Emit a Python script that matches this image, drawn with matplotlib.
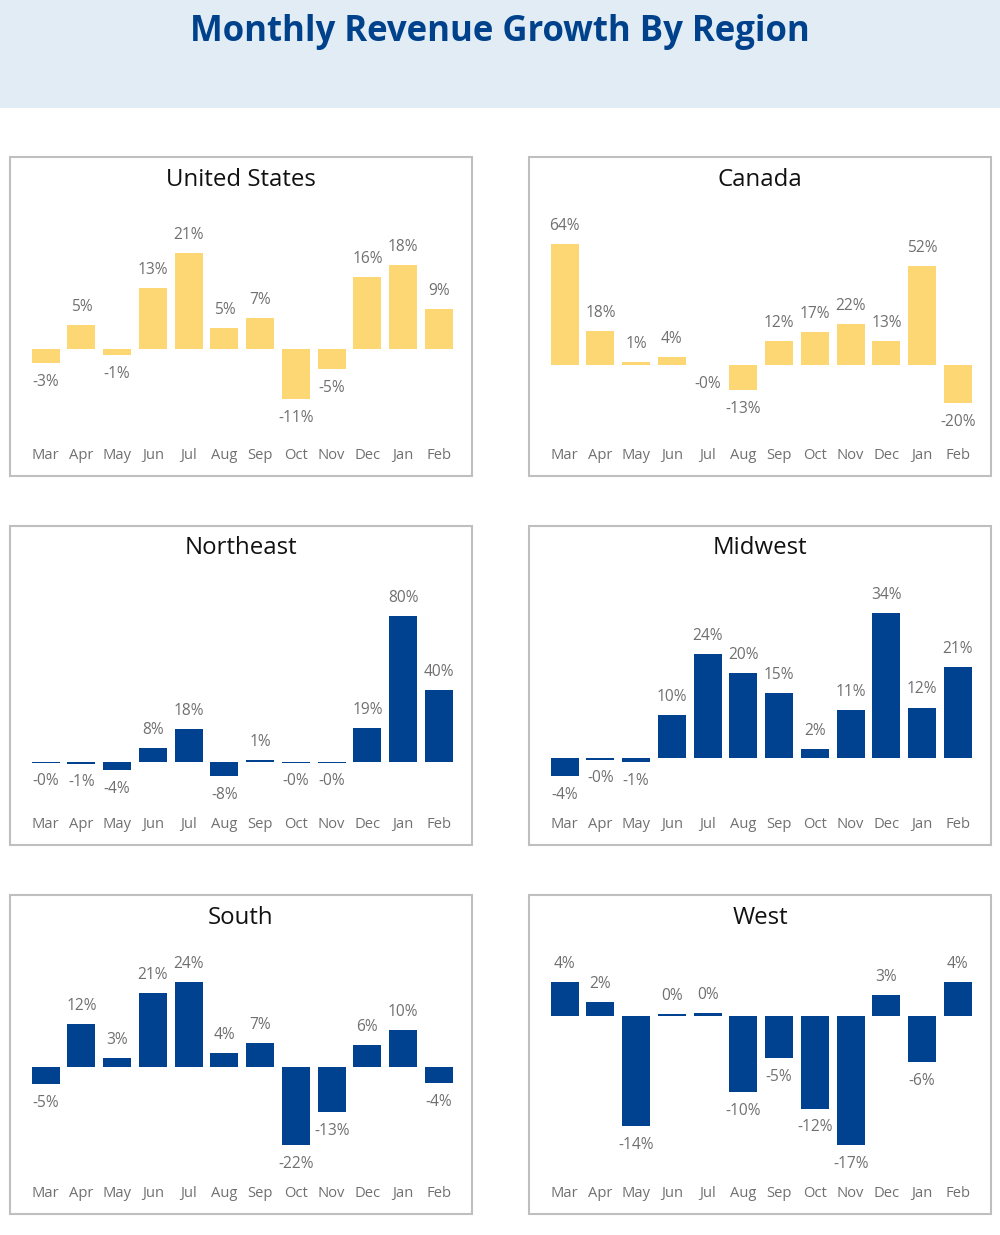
import numpy as np
import matplotlib.pyplot as plt
from matplotlib.patches import Rectangle

plt.rcParams['font.family'] = ['Open Sans', 'DejaVu Sans']

# %%
# month-over-month revenue growth (%)
months = ['Mar', 'Apr', 'May', 'Jun', 'Jul', 'Aug', 'Sep', 'Oct', 'Nov', 'Dec', 'Jan', 'Feb']

united_states = [-3.15, 5.2, -1.45, 13.4, 21.0, 4.6, 6.6, -11.1, -4.6, 15.7, 18.3, 8.6]
canada = [64.0, 18.0, 1.4, 4.1, -0.4, -13.3, 12.4, 17.1, 21.7, 12.7, 52.3, -20.3]
northeast = [-0.3, -0.8, -4.2, 7.6, 18.1, -7.6, 1.1, -0.3, -0.3, 18.6, 80.0, 39.6]
midwest = [-4.1, -0.3, -0.9, 10.1, 24.3, 20.0, 15.4, 2.3, 11.3, 34.0, 11.9, 21.4]
south = [-4.8, 12.3, 2.6, 21.0, 24.0, 4.0, 6.9, -21.8, -12.6, 6.2, 10.4, -4.4]
west = [4.4, 1.9, -14.2, 0.3, 0.4, -9.8, -5.4, -11.9, -16.6, 2.75, -5.9, 4.45]

regions = ['United States', 'Canada', 'Northeast', 'Midwest', 'South', 'West']
values = [united_states, canada, northeast, midwest, south, west]

# %%
# layout in pixels (figure is 1000 x 1235)
W, H = 1000, 1235
yellow = '#FDD774'
blue = '#00428F'
bar_colors = [yellow, yellow, blue, blue, blue, blue]
panel_x = [10, 529, 10, 529, 10, 529]
panel_y = [157, 157, 526, 526, 895, 895]
panel_w, panel_h = 462, 319
# pixel rows (from panel top) where the tallest bar top and lowest bar bottom sit
bar_top_px = [96, 87, 90, 87, 87, 87]
bar_bot_px = [242, 246, 250, 250, 250, 250]
ax_top_px, ax_bot_px = 60, 280


def fig_rect(x, y, w, h):
    return [x / W, 1 - (y + h) / H, w / W, h / H]


fig = plt.figure(figsize=(10, 12.35), dpi=100)

# header band
fig.patches.append(Rectangle((0, 1 - 108 / H), 1, 108 / H, transform=fig.transFigure,
                             facecolor='#E1ECF4', edgecolor='none', zorder=-2))
fig.text(0.5, 1 - 32 / H, 'Monthly Revenue Growth By Region', ha='center', va='center',
         fontsize=25, fontweight='bold', color='#00418C')

for k in range(len(regions)):
    x0, y0 = panel_x[k], panel_y[k]
    vals = np.array(values[k])

    # panel frame
    fig.patches.append(Rectangle((x0 / W, 1 - (y0 + panel_h) / H), panel_w / W, panel_h / H,
                                 transform=fig.transFigure, facecolor='white',
                                 edgecolor='#BFBFBF', linewidth=1.5, zorder=-1))
    fig.text((x0 + panel_w / 2) / W, 1 - (y0 + 22.5) / H, regions[k], ha='center', va='center',
             fontsize=17.3, color='#111111')

    ax = fig.add_axes(fig_rect(x0 + 17.8, y0 + ax_top_px, 429, ax_bot_px - ax_top_px))
    vmax, vmin = max(vals.max(), 0), min(vals.min(), 0)
    scale = (bar_bot_px[k] - bar_top_px[k]) / (vmax - vmin)   # px per percent
    ax.set_ylim(vmin - (ax_bot_px - bar_bot_px[k]) / scale,
                vmax + (bar_top_px[k] - ax_top_px) / scale)
    ax.set_xlim(-0.5, len(months) - 0.5)

    xs = np.arange(len(months))
    ax.bar(xs, vals, width=0.78, color=bar_colors[k], edgecolor='none')

    for i, v in enumerate(vals):
        lab = '{:.0f}%'.format(v)
        if v < 0 and round(v) == 0:
            lab = '-0%'
        off = 13 if v >= 0 else -13.5
        ax.annotate(lab, xy=(i, v), xytext=(0, off), textcoords='offset points',
                    ha='center', va='center', fontsize=11.2, color='#707070')
        ax.annotate(months[i], xy=(i, 0), xycoords=('data', 'axes fraction'),
                    xytext=(0, -13), textcoords='offset points',
                    ha='center', va='center', fontsize=10.6, color='#707070')

    ax.axis('off')

plt.savefig('out.png', dpi=100)
